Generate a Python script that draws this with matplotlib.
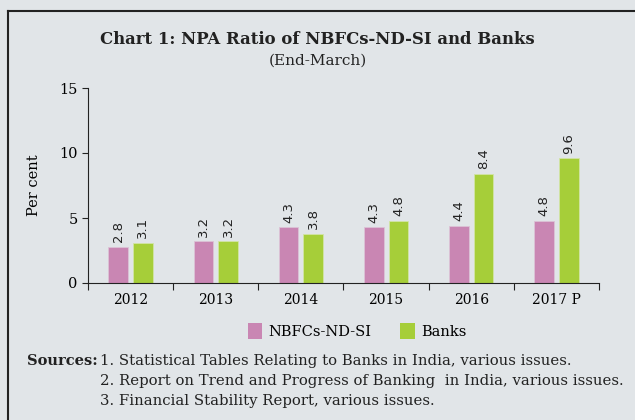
import numpy as np
import matplotlib.pyplot as plt
from matplotlib.lines import Line2D
from matplotlib.patches import Patch

# data
years = ['2012', '2013', '2014', '2015', '2016', '2017 P']
nbfc = [2.8, 3.2, 4.3, 4.3, 4.4, 4.8]
banks = [3.1, 3.2, 3.8, 4.8, 8.4, 9.6]

bg = '#e1e5e8'
pink = '#c986b3'
green = '#a6ce39'
plt.rcParams['font.family'] = ['DejaVu Serif']

W, H = 635, 420
fig = plt.figure(figsize=(W / 100, H / 100), dpi=100, facecolor=bg)

# frame (left and top only visible)
fig.add_artist(Line2D([8 / W, 8 / W], [0, 1 - 11 / H], color='#222222', lw=1.5))
fig.add_artist(Line2D([8 / W, 1], [1 - 11 / H, 1 - 11 / H], color='#222222', lw=1.5))

ax = fig.add_axes([88 / W, 1 - 283 / H, (599 - 88) / W, (283 - 88) / H])
ax.set_facecolor(bg)

x = np.arange(len(years))
bw = 0.23
off = 0.145
b1 = ax.bar(x - off, nbfc, bw, color=pink, edgecolor='#dcc3d6', linewidth=0.6)
b2 = ax.bar(x + off, banks, bw, color=green, edgecolor='#d2e4a6', linewidth=0.6)

for bars, vals in ((b1, nbfc), (b2, banks)):
    for r, v in zip(bars, vals):
        ax.text(r.get_x() + r.get_width() / 2, v + 0.35, f'{v:.1f}',
                rotation=90, ha='center', va='bottom', fontsize=9.5,
                family='DejaVu Sans', color='#222222')

ax.set_xlim(-0.5, len(years) - 0.5)
ax.set_ylim(0, 15)
ax.set_yticks([0, 5, 10, 15])
ax.set_xticks(np.arange(len(years) + 1) - 0.5)
ax.set_xticklabels([])
ax.set_xticks(x, minor=True)
ax.set_xticklabels(years, minor=True, fontsize=10)
ax.tick_params(axis='x', which='minor', length=0, pad=7)
ax.tick_params(axis='x', which='major', length=5, direction='out', color='#222222')
ax.tick_params(axis='y', length=4, labelsize=10.5, color='#222222')
for s in ('top', 'right'):
    ax.spines[s].set_visible(False)
ax.spines['left'].set_color('#222222')
ax.spines['bottom'].set_color('#222222')
ax.set_ylabel('Per cent', fontsize=10.5, labelpad=13)

fig.text(0.5, 1 - 40 / H, 'Chart 1: NPA Ratio of NBFCs-ND-SI and Banks',
         ha='center', va='center', fontsize=11.9, fontweight='bold', color='#222222')
fig.text(0.5, 1 - 61 / H, '(End-March)', ha='center', va='center',
         fontsize=11, color='#222222')

handles = [Patch(facecolor=pink, edgecolor='none', label='NBFCs-ND-SI'),
           Patch(facecolor=green, edgecolor='none', label='Banks')]
fig.legend(handles=handles, loc='center', bbox_to_anchor=(357 / W, 1 - 331 / H),
           ncol=2, frameon=False, fontsize=10.5, handlelength=1.0,
           handleheight=1.3, columnspacing=2.0, handletextpad=0.4)

fig.text(27 / W, 1 - 361 / H, 'Sources:', ha='left', va='center',
         fontsize=10.5, fontweight='bold', color='#222222')
src = ['1. Statistical Tables Relating to Banks in India, various issues.',
       '2. Report on Trend and Progress of Banking  in India, various issues.',
       '3. Financial Stability Report, various issues.']
for i, s in enumerate(src):
    fig.text(100 / W, 1 - (361 + 20 * i) / H, s, ha='left', va='center',
             fontsize=10.7, color='#222222')

fig.savefig('out.png', dpi=100, facecolor=bg)
